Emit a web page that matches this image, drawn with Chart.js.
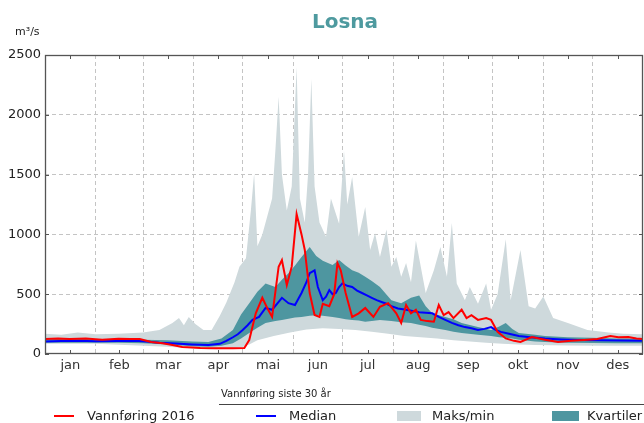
<!DOCTYPE html>
<html><head><meta charset="utf-8">
<script src="https://cdn.jsdelivr.net/npm/chart.js@4/dist/chart.umd.min.js"></script>
<style>
html,body{margin:0;padding:0;background:#fff;}
#wrap{position:relative;width:644px;height:423px;overflow:hidden;font-family:"DejaVu Sans",sans-serif;}
canvas{position:absolute;left:0;top:0;}
.t{position:absolute;white-space:nowrap;color:#222;line-height:1;}
.dash{position:absolute;height:2px;}
.sw{position:absolute;height:10px;}
</style></head><body>
<div id="wrap">
<canvas id="c" width="644" height="423"></canvas>
<div class="t" style="left:0;width:690px;text-align:center;top:11px;font-size:20px;font-weight:bold;color:#4e9a9f;">Losna</div>
<div class="t" style="left:15px;top:26px;font-size:11px;">m³/s</div>
<div class="t" style="left:221px;top:389px;font-size:10px;">Vannføring siste 30 år</div>
<div style="position:absolute;left:219px;top:404px;width:430px;height:1px;background:#444;"></div>
<div class="dash" style="left:54px;top:415px;width:20px;background:#ff0000;"></div>
<div class="t" style="left:87px;top:409px;font-size:13px;">Vannføring 2016</div>
<div class="dash" style="left:256px;top:415px;width:20px;background:#0000ff;"></div>
<div class="t" style="left:289px;top:409px;font-size:13px;">Median</div>
<div class="sw" style="left:397px;top:411px;width:24px;background:rgb(206,217,220);"></div>
<div class="t" style="left:432px;top:409px;font-size:13px;">Maks/min</div>
<div class="sw" style="left:552px;top:411px;width:27px;background:rgb(78,150,160);"></div>
<div class="t" style="left:587px;top:409px;font-size:13px;">Kvartiler</div>
</div>
<script>
// ---- data (day of year 2016, m3/s) ----
const monthLabels = ["jan","feb","mar","apr","mai","jun","jul","aug","sep","okt","nov","des"];
const monthStarts = [0,31,60,91,121,152,182,213,244,274,305,335,366];
const yTicks = [0,500,1000,1500,2000,2500];

const redDays = [0,8,15,25,35,45,52,58,65,72,78,84,90,95,105,115,122,125,129,133,136,139,143,145,148,151,154,157,159,162,165,168,170,174,177,179,181,184,188,192,196,201,205,210,215,218,221,224,227,230,234,238,241,244,247,250,255,258,261,265,270,273,277,282,287,291,298,306,314,322,330,338,346,351,357,362,366];
const redVals = [125,130,125,130,120,128,125,125,100,90,75,58,55,50,48,48,50,117,340,470,385,310,730,786,577,730,1170,1000,870,510,326,310,420,400,500,760,700,510,310,340,385,310,395,425,340,260,410,340,370,285,275,270,410,325,350,300,370,300,325,285,300,285,185,130,110,100,142,120,100,110,117,125,150,140,142,130,125];

const medDays = [0,10,20,31,45,55,62,70,80,90,100,107,111,115,118,121,124,127,131,135,139,142,145,149,153,157,160,162,165,167,170,172,174,176,178,180,182,185,188,191,194,197,200,203,206,209,212,216,221,225,229,233,237,241,245,249,253,257,261,265,269,273,276,279,284,290,297,306,316,326,340,352,366];
const medVals = [105,108,110,106,108,110,105,95,88,80,75,85,110,140,165,200,240,285,310,385,370,420,470,425,410,510,600,675,700,560,450,480,535,500,510,560,590,570,560,530,510,490,470,450,435,420,400,380,370,360,350,345,340,310,285,260,240,225,215,200,210,225,200,185,170,150,140,130,122,117,114,112,110];

const maxDays = [0,10,20,31,45,60,70,78,82,85,88,92,97,102,107,111,116,119,123,126,128,130,133,136,139,141,143,145,148,151,154,156,159,161,163,165,168,172,175,180,183,185,188,192,196,199,202,205,209,212,215,218,221,224,227,233,238,242,246,249,252,257,260,265,270,273,277,282,285,291,296,300,305,311,320,332,345,354,366];
const maxVals = [170,160,180,165,170,180,200,260,300,240,310,250,200,200,320,430,600,730,800,1200,1510,900,1000,1150,1300,1700,2150,1500,1200,1400,2400,1300,1100,1500,2300,1400,1100,980,1300,1090,1700,1250,1480,980,1230,870,1010,810,1040,730,810,645,760,600,950,510,700,895,645,1095,590,450,560,420,590,370,500,960,450,870,400,380,480,300,260,200,180,170,165];

const minDays = [0,31,60,75,90,100,110,120,125,130,140,150,160,170,180,190,200,210,220,230,240,250,260,270,280,290,300,320,340,366];
const minVals = [85,85,70,60,48,40,42,55,80,115,150,180,205,215,210,200,185,170,150,140,130,115,105,95,85,80,75,72,70,70];

const qDays = [0,15,31,45,60,75,90,100,108,115,120,125,130,135,141,145,149,153,157,162,166,170,176,180,184,188,192,196,200,205,212,218,224,229,233,237,245,250,255,265,273,278,282,286,290,300,306,320,335,350,366];
const q3Vals = [125,130,125,125,120,115,105,100,130,200,330,425,520,590,560,620,675,740,810,895,820,780,745,785,740,700,680,645,610,560,450,425,470,490,400,340,310,290,260,225,200,230,260,210,175,160,150,140,135,130,130];
const q1Vals = [95,95,95,95,90,80,65,60,70,90,130,175,220,260,275,285,295,305,310,320,325,320,310,300,290,285,280,270,275,285,275,265,260,245,235,220,200,185,175,160,150,140,135,130,120,105,100,95,92,90,90];

const pts = (d, v) => d.map((x, i) => ({x: x, y: v[i]}));
const monthMids = monthStarts.slice(0, 12).map((s, i) => (s + monthStarts[i + 1]) / 2);

const frame = {
  id: 'frame',
  afterDatasetsDraw(chart) {
    const {ctx, chartArea: a, scales: {x, y}} = chart;
    ctx.save();
    ctx.strokeStyle = '#555';
    ctx.lineWidth = 1.3;
    ctx.strokeRect(a.left + 0.5, a.top + 0.5, a.right - a.left - 1, a.bottom - a.top - 1);
    ctx.lineWidth = 1;
    ctx.beginPath();
    monthMids.forEach(v => {
      const px = Math.round(x.getPixelForValue(v)) + 0.5;
      ctx.moveTo(px, a.bottom); ctx.lineTo(px, a.bottom - 4);
      ctx.moveTo(px, a.top); ctx.lineTo(px, a.top + 4);
    });
    yTicks.forEach(v => {
      const py = Math.round(y.getPixelForValue(v)) + 0.5;
      ctx.moveTo(a.left, py); ctx.lineTo(a.left + 4, py);
      ctx.moveTo(a.right, py); ctx.lineTo(a.right - 4, py);
    });
    ctx.stroke();
    ctx.restore();
  }
};

new Chart(document.getElementById('c'), {
  type: 'line',
  data: {
    datasets: [
      {label: 'Maks', data: pts(maxDays, maxVals), borderWidth: 0, borderColor: 'rgba(0,0,0,0)', backgroundColor: 'rgb(206,217,220)', fill: 1, pointRadius: 0, order: 6},
      {label: 'Min', data: pts(minDays, minVals), borderWidth: 0, borderColor: 'rgba(0,0,0,0)', fill: false, pointRadius: 0, order: 5},
      {label: 'Q3', data: pts(qDays, q3Vals), borderWidth: 0, borderColor: 'rgba(0,0,0,0)', backgroundColor: 'rgb(78,150,160)', fill: 3, pointRadius: 0, order: 4},
      {label: 'Q1', data: pts(qDays, q1Vals), borderWidth: 0, borderColor: 'rgba(0,0,0,0)', fill: false, pointRadius: 0, order: 3},
      {label: 'Median', data: pts(medDays, medVals), borderWidth: 2, borderColor: '#0000ff', fill: false, pointRadius: 0, order: 2},
      {label: 'Vannføring 2016', data: pts(redDays, redVals), borderWidth: 2, borderColor: '#ff0000', fill: false, pointRadius: 0, order: 1}
    ]
  },
  options: {
    responsive: false,
    animation: false,
    layout: {padding: {top: 55, left: 0, right: 1, bottom: 0}},
    plugins: {legend: {display: false}, tooltip: {enabled: false}, title: {display: false}},
    elements: {line: {tension: 0}},
    scales: {
      x: {
        type: 'linear', min: 0, max: 366,
        afterBuildTicks: s => { s.ticks = monthStarts.concat(monthMids).sort((a, b) => a - b).map(v => ({value: v})); },
        afterFit: s => { s.height = 69; s.paddingLeft = 0; s.paddingRight = 0; },
        ticks: {
          autoSkip: false, maxRotation: 0, padding: 4, color: '#333',
          font: {family: 'DejaVu Sans', size: 13},
          callback: v => { const i = monthMids.indexOf(v); return i >= 0 ? monthLabels[i] : ''; }
        },
        grid: {
          drawTicks: false,
          color: c => (c.tick && monthStarts.indexOf(c.tick.value) > 0 && c.tick.value < 366) ? '#c4c4c4' : 'rgba(0,0,0,0)',
          lineWidth: 1
        },
        border: {display: false, dash: [4, 3]}
      },
      y: {
        min: 0, max: 2500,
        afterBuildTicks: s => { s.ticks = yTicks.map(v => ({value: v})); },
        afterFit: s => { s.width = 45; },
        ticks: {padding: 4, color: '#222', font: {family: 'DejaVu Sans', size: 13}, callback: v => String(v)},
        grid: {
          drawTicks: false,
          color: c => (c.tick && c.tick.value > 0 && c.tick.value < 2500) ? '#c4c4c4' : 'rgba(0,0,0,0)',
          lineWidth: 1
        },
        border: {display: false, dash: [4, 3]}
      }
    }
  },
  plugins: [frame]
});
</script>
</body></html>
